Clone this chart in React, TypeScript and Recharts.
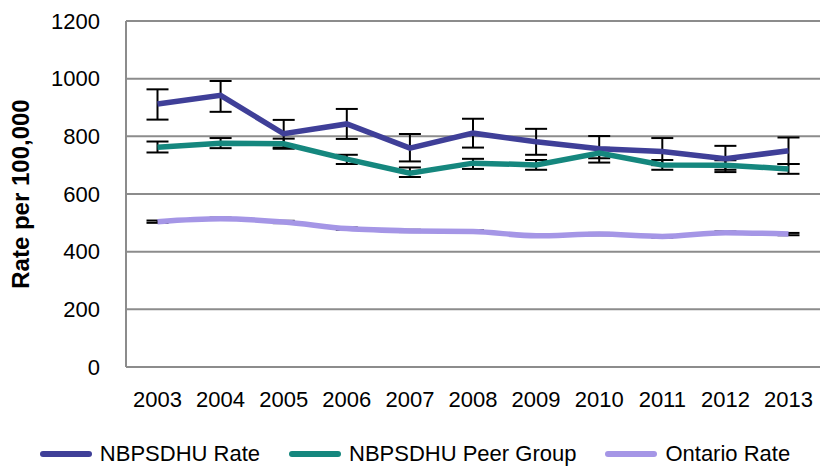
import React from 'react';
import { LineChart, Line, XAxis, YAxis, CartesianGrid, ErrorBar, Legend } from 'recharts';

const years = ['2003', '2004', '2005', '2006', '2007', '2008', '2009', '2010', '2011', '2012', '2013'];

const rate = [912, 942, 809, 843, 759, 811, 781, 757, 747, 722, 750];
const rateLow = [858, 885, 761, 791, 713, 761, 736, 709, 700, 676, 704];
const rateHigh = [963, 992, 857, 895, 808, 861, 826, 801, 794, 767, 796];

const peer = [762, 776, 774, 721, 672, 707, 701, 742, 701, 700, 687];
const peerLow = [744, 759, 757, 704, 659, 687, 684, 724, 684, 684, 670];
const peerHigh = [782, 794, 792, 736, 692, 722, 718, 760, 718, 717, 704];

const ontario = [504, 514, 503, 480, 472, 470, 455, 461, 453, 466, 461];
const ontarioLow = [500, 510, 499, 476, 468, 466, 451, 457, 449, 462, 457];
const ontarioHigh = [508, 518, 507, 484, 476, 474, 459, 465, 457, 470, 465];

const yTicks = [0, 200, 400, 600, 800, 1000, 1200];

const seriesNames = ['NBPSDHU Rate', 'NBPSDHU Peer Group', 'Ontario Rate'];
const seriesColors = ['#3F3F98', '#15877E', '#A596E6'];

const data = years.map((y, i) => ({
  year: y,
  rate: rate[i],
  rateErr: [rate[i] - rateLow[i], rateHigh[i] - rate[i]],
  peer: peer[i],
  peerErr: [peer[i] - peerLow[i], peerHigh[i] - peer[i]],
  ontario: ontario[i],
  ontarioErr: [ontario[i] - ontarioLow[i], ontarioHigh[i] - ontario[i]],
}));

const FONT = '"Liberation Sans", Arial, sans-serif';

const LegendContent = () => (
  <div
    style={{
      display: 'flex',
      justifyContent: 'center',
      alignItems: 'center',
      height: 30,
      fontFamily: FONT,
      fontSize: 22,
      color: '#000',
      whiteSpace: 'nowrap',
    }}
  >
    {seriesNames.map((name, i) => (
      <div key={name} style={{ display: 'flex', alignItems: 'center', marginRight: i < 2 ? 29 : 0 }}>
        <svg width={52} height={10} style={{ marginRight: 8 }}>
          <line x1={3} x2={49} y1={5} y2={5} stroke={seriesColors[i]} strokeWidth={6} strokeLinecap="round" />
        </svg>
        <span style={{ lineHeight: '30px' }}>{name}</span>
      </div>
    ))}
  </div>
);

const errKeys = ['rateErr', 'peerErr', 'ontarioErr'];
const valKeys = ['rate', 'peer', 'ontario'];
const curveTypes: ('linear' | 'monotone')[] = ['linear', 'linear', 'monotone'];

export default function App() {
  return (
    <div style={{ position: 'absolute', left: 0, top: 0, width: 830, height: 467, background: '#fff' }}>
      <LineChart
        width={830}
        height={467}
        data={data}
        margin={{ top: 21, right: 10, bottom: 40, left: 0 }}
      >
        <CartesianGrid vertical={false} stroke="#8C8C8C" strokeWidth={2} />
        <XAxis
          dataKey="year"
          padding={{ left: 31.5, right: 31.5 }}
          tickLine={false}
          tickSize={0}
          tickMargin={24}
          axisLine={{ stroke: '#8C8C8C', strokeWidth: 2 }}
          tick={{ fontSize: 22, fill: '#000', fontFamily: FONT }}
          interval={0}
        />
        <YAxis
          width={126}
          domain={[0, 1200]}
          ticks={yTicks}
          tickLine={false}
          tickSize={0}
          tickMargin={26}
          axisLine={{ stroke: '#8C8C8C', strokeWidth: 2 }}
          tick={{ fontSize: 22, fill: '#000', fontFamily: FONT }}
          label={{
            value: 'Rate per 100,000',
            angle: -90,
            position: 'insideLeft',
            offset: 20,
            style: { textAnchor: 'middle', fontSize: 24, fontWeight: 'bold', fill: '#000', fontFamily: FONT },
          }}
        />
        <Legend
          verticalAlign="bottom"
          content={<LegendContent />}
          wrapperStyle={{ top: 439, bottom: 'auto', left: 0, width: 830 }}
        />
        {valKeys.map((k, i) => (
          <Line
            key={`err-${k}`}
            type="linear"
            dataKey={k}
            stroke="none"
            strokeWidth={0}
            dot={false}
            activeDot={false}
            legendType="none"
            isAnimationActive={false}
          >
            <ErrorBar dataKey={errKeys[i]} width={11} stroke="#000" strokeWidth={2} isAnimationActive={false} />
          </Line>
        ))}
        {valKeys.map((k, i) => (
          <Line
            key={k}
            type={curveTypes[i]}
            dataKey={k}
            name={seriesNames[i]}
            stroke={seriesColors[i]}
            strokeWidth={5.5}
            dot={false}
            activeDot={false}
            isAnimationActive={false}
          />
        ))}
      </LineChart>
    </div>
  );
}
